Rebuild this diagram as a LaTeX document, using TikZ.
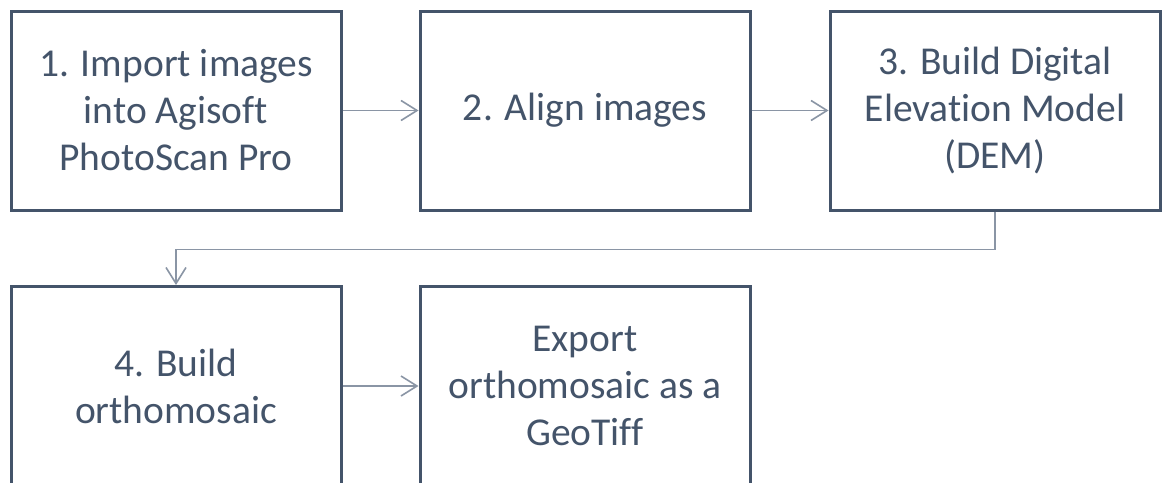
\documentclass[tikz,border=0pt]{standalone}
\usepackage{fontspec}
\setmainfont{Carlito}[Ligatures={NoCommon}]
\usetikzlibrary{arrows.meta}
\definecolor{boxc}{HTML}{44546A}
\definecolor{arrc}{HTML}{8A95A5}
\tikzset{
  stepbox/.style={draw=boxc, line width=3pt, minimum width=330pt, minimum height=199pt,
    inner sep=0pt, align=center, text=boxc, font=\fontsize{39.5}{47}\selectfont},
  conn/.style={draw=arrc, line width=1.6pt, -{Straight Barb[length=16pt,width=20pt,line width=1.6pt]}}
}
\begin{document}
\begin{tikzpicture}[x=1pt,y=-1pt]
\useasboundingbox (0,0) rectangle (1164,482);
\node[stepbox] (b1) at (176,110.5) {1. Import images\\into Agisoft\\PhotoScan Pro};
\node[stepbox] (b2) at (585,110.5) {2. Align images};
\node[stepbox] (b3) at (995,110.5) {3. Build Digital\\Elevation Model\\(DEM)};
\node[stepbox] (b4) at (176,386) {4. Build\\orthomosaic};
\node[stepbox] (b5) at (585,386) {Export\\orthomosaic as a\\GeoTiff};
\draw[conn] (b1) -- (b2);
\draw[conn] (b2) -- (b3);
\draw[conn] (b3.south) -- ++(0,38) -| (b4.north);
\draw[conn] (b4) -- (b5);
\end{tikzpicture}
\end{document}
